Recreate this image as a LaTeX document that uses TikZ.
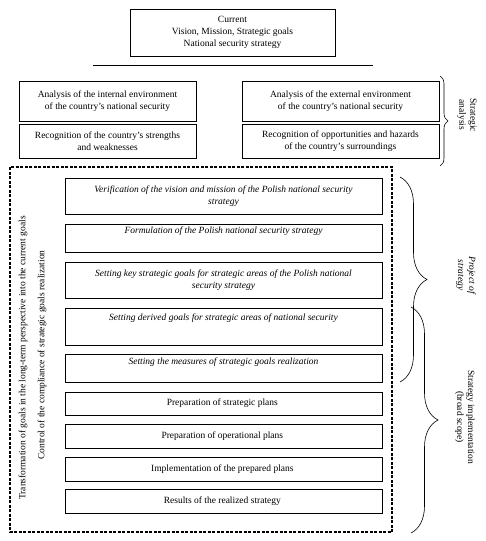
\documentclass[tikz,border=0pt]{standalone}
\usepackage{fontspec}
\setmainfont{Liberation Serif}
\usetikzlibrary{decorations.pathreplacing}
\tikzstyle{bx} = [draw, rectangle, line width=0.8pt, align=center, inner sep=0pt, font=\fontsize{9.5}{12}\selectfont]
\tikzstyle{it} = [bx, font=\fontsize{9.5}{12}\selectfont\itshape]
\tikzstyle{lbl} = [align=center, rotate=-90, font=\fontsize{9.5}{11}\selectfont]
\tikzstyle{vt} = [rotate=90, font=\fontsize{9.5}{11}\selectfont]
\tikzstyle{br} = [decorate, line width=0.6pt]

\begin{document}
\begin{tikzpicture}[x=1pt,y=-1pt]
	\useasboundingbox (0,0) rectangle (485,541);
	
	% current state
	\node [bx, minimum width=205, minimum height=47] (cur) at (232.5,32.5){%
		Current\\Vision, Mission, Strategic goals\\National security strategy
	};
	\draw [line width=0.8pt] (93,65) -- (373,65);
	
	% strategic analysis
	\node [bx, minimum width=177, minimum height=40] (intl) at (107.5,101){%
		Analysis of the internal environment\\of the country's national security
	};
	\node [bx, minimum width=197, minimum height=40] (extl) at (340.5,101){%
		Analysis of the external environment\\of the country's national security
	};
	\node [bx, minimum width=177, minimum height=34] (strw) at (107.5,141){%
		Recognition of the country's strengths\\and weaknesses
	};
	\node [bx, minimum width=197, minimum height=34] (opph) at (340.5,141){%
		Recognition of opportunities and hazards\\of the country's surroundings
	};
	
	% strategy project and implementation
	\draw [line width=1.3pt, dash pattern=on 3pt off 1.5pt] (10,167) rectangle (392,532);
	\node [it, minimum width=317, minimum height=36] (verif) at (223.5,196){%
		Verification of the vision and mission of the Polish national security\\strategy
	};
	\node [it, minimum width=317, minimum height=28] (form) at (223.5,238){%
		Formulation of the Polish national security strategy\\[4pt]
	};
	\node [it, minimum width=317, minimum height=36] (keyg) at (223.5,280){%
		Setting key strategic goals for strategic areas of the Polish national\\security strategy
	};
	\node [it, minimum width=317, minimum height=37] (derg) at (223.5,326.5){%
		Setting derived goals for strategic areas of national security\\[6pt]
	};
	\node [it, minimum width=317, minimum height=28] (meas) at (223.5,368){%
		Setting the measures of strategic goals realization\\[2pt]
	};
	\node [bx, minimum width=317, minimum height=23] (splan) at (223.5,403.5){%
		Preparation of strategic plans
	};
	\node [bx, minimum width=317, minimum height=24] (oplan) at (223.5,436){%
		Preparation of operational plans
	};
	\node [bx, minimum width=317, minimum height=24] (impl) at (223.5,469){%
		Implementation of the prepared plans
	};
	\node [bx, minimum width=317, minimum height=24] (res) at (223.5,501){%
		Results of the realized strategy
	};
	
	% side texts
	\node [vt] (trans) at (23,358){%
		Transformation of goals in the long-term perspective into the current goals
	};
	\node [vt] (ctrl) at (42,355){%
		Control of the compliance of strategic goals realization
	};
	
	% braces
	\coordinate (saT) at (440,76);
	\coordinate (saB) at (440,166);
	\draw [br, decoration={brace, amplitude=8pt}] (saT) -- (saB);
	\node [lbl] (sa) at (467,115){Strategic\\analysis};
	
	\coordinate (psT) at (400,177);
	\coordinate (psB) at (400,382);
	\draw [br, decoration={brace, amplitude=27pt}] (psT) -- (psB);
	\node [lbl, font=\fontsize{9.5}{11}\selectfont\itshape] (ps) at (466,275){Project of\\strategy};
	
	\coordinate (siT) at (411,307);
	\coordinate (siB) at (411,533);
	\draw [br, decoration={brace, amplitude=27pt}] (siT) -- (siB);
	\node [lbl] (si) at (465,417){Strategy implementation\\(broad scope)};
\end{tikzpicture}
\end{document}
